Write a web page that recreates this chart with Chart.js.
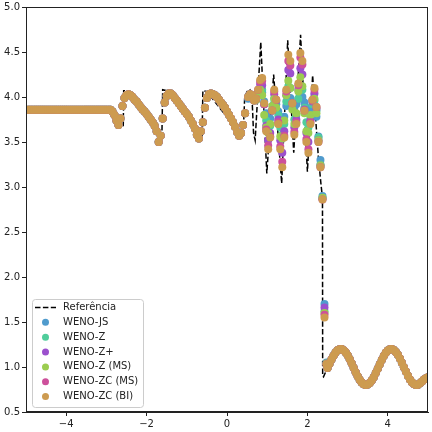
<!DOCTYPE html>
<html><head><meta charset="utf-8">
<script src="https://cdn.jsdelivr.net/npm/chart.js@4.4.0/dist/chart.umd.min.js"></script>
<style>html,body{margin:0;padding:0;background:#fff;overflow:hidden}</style>
</head><body>
<canvas id="c" width="432" height="432" style="width:432px;height:432px;display:block"></canvas>
<script>
const xTicks = [-4, -2, 0, 2, 4];
const yTicks = [0.5, 1.0, 1.5, 2.0, 2.5, 3.0, 3.5, 4.0, 4.5, 5.0];
const refLabel = 'Referência';
const seriesNames = ['WENO-JS', 'WENO-Z', 'WENO-Z+', 'WENO-Z (MS)', 'WENO-ZC (MS)', 'WENO-ZC (BI)'];
const seriesColors = ['#509bcd', '#50cd9b', '#9b50cd', '#9bcd50', '#cd509b', '#cd9b50'];

// reference solution
const refX = [-5, -2.9, -2.8, -2.7, -2.6, -2.58, -2.57, -2.5, -1.62, -1.60, -1.5, -0.62, -0.60, -0.5,
  0.40, 0.44, 0.5, 0.57, 0.62, 0.66, 0.70,
  0.84, 0.99, 1.16, 1.36, 1.51, 1.66, 1.83, 2.0, 2.13, 2.27, 2.34, 2.375, 2.38, 2.4,
  2.5, 2.6, 2.7, 2.8, 2.9, 3.0, 3.1, 3.2, 3.3, 3.4, 3.5, 3.6, 3.7, 3.8, 3.9, 4.0, 4.1, 4.2, 4.3, 4.4, 4.5, 4.6, 4.7, 4.8, 4.9,
  4.96, 5.0];
const refY = [3.857, 3.857, 3.81, 3.75, 3.70, 3.69, 4.07, 4.07, 3.56, 4.08, 4.07, 3.56, 4.07, 4.06,
  3.55, 4.0, 4.06, 4.08, 4.02, 3.6, 3.52,
  4.61, 3.15, 4.25, 3.04, 4.63, 3.38, 4.69, 3.17, 4.24, 3.35, 3.02, 2.88, 0.90, 0.89,
  0.99, 1.08, 1.16, 1.20, 1.19, 1.13, 1.04, 0.94, 0.86, 0.81, 0.80, 0.85, 0.93, 1.03, 1.12, 1.18, 1.20, 1.17, 1.09, 1.00, 0.90, 0.83, 0.80, 0.82, 0.86,
  0.87, 0.97];

// numerical solutions: smooth left part (common to all schemes)
const xLeft = [-5.0, -4.95, -4.9, -4.85, -4.8, -4.75, -4.7, -4.65, -4.6, -4.55, -4.5, -4.45, -4.4, -4.35, -4.3, -4.25, -4.2, -4.15, -4.1, -4.05,
  -4.0, -3.95, -3.9, -3.85, -3.8, -3.75, -3.7, -3.65, -3.6, -3.55, -3.5, -3.45, -3.4, -3.35, -3.3, -3.25, -3.2, -3.15, -3.1, -3.05,
  -3.0, -2.95, -2.9, -2.85, -2.8, -2.75, -2.7, -2.65, -2.6, -2.55, -2.5, -2.45, -2.4, -2.35, -2.3, -2.25, -2.2, -2.15, -2.1, -2.05,
  -2.0, -1.95, -1.9, -1.85, -1.8, -1.75, -1.7, -1.65, -1.6, -1.55, -1.5, -1.45, -1.4, -1.35, -1.3, -1.25, -1.2, -1.15, -1.1, -1.05,
  -1.0, -0.95, -0.9, -0.85, -0.8, -0.75, -0.7, -0.65, -0.6, -0.55, -0.5, -0.45, -0.4, -0.35, -0.3, -0.25, -0.2, -0.15, -0.1, -0.05,
  0.0, 0.05, 0.1, 0.15, 0.2, 0.25, 0.3, 0.35, 0.4, 0.45];
const rhoLeft = [3.857, 3.857, 3.857, 3.857, 3.857, 3.857, 3.857, 3.857, 3.857, 3.857, 3.857, 3.857, 3.857, 3.857, 3.857, 3.857, 3.857, 3.857, 3.857, 3.857,
  3.857, 3.857, 3.857, 3.857, 3.857, 3.857, 3.857, 3.857, 3.857, 3.857, 3.857, 3.857, 3.857, 3.857, 3.857, 3.857, 3.857, 3.857, 3.857, 3.857,
  3.857, 3.857, 3.857, 3.84, 3.80, 3.74, 3.69, 3.76, 3.90, 3.99, 4.02, 4.03, 4.02, 4.00, 3.97, 3.95, 3.92, 3.89, 3.86, 3.84,
  3.81, 3.78, 3.75, 3.72, 3.68, 3.62, 3.50, 3.57, 3.76, 3.94, 4.01, 4.04, 4.04, 4.02, 3.99, 3.96, 3.93, 3.90, 3.87, 3.84,
  3.81, 3.78, 3.74, 3.70, 3.65, 3.58, 3.54, 3.62, 3.72, 3.88, 3.99, 4.03, 4.04, 4.03, 4.02, 4.00, 3.97, 3.94, 3.91, 3.88,
  3.84, 3.80, 3.76, 3.72, 3.67, 3.61, 3.57, 3.60, 3.69, 3.82];

// high-frequency region, per scheme
const xMid = [0.525, 0.575, 0.625, 0.675, 0.725, 0.775, 0.825, 0.875, 0.925, 0.975,
  1.025, 1.075, 1.125, 1.175, 1.225, 1.275, 1.325, 1.375, 1.425, 1.475,
  1.525, 1.575, 1.625, 1.675, 1.725, 1.775, 1.825, 1.875, 1.925, 1.975,
  2.025, 2.075, 2.125, 2.175, 2.225, 2.275, 2.325, 2.375, 2.425, 2.475];
const rhoJS = [3.98, 4.02, 4.00, 3.97, 3.98, 4.03, 4.07, 4.05, 3.95, 3.82,
  3.74, 3.76, 3.85, 3.93, 3.92, 3.84, 3.76, 3.72, 3.78, 3.90,
  3.98, 3.99, 3.93, 3.88, 3.92, 3.98, 4.02, 4.00, 3.94, 3.88,
  3.85, 3.86, 3.84, 3.82, 3.78, 3.56, 3.30, 2.90, 1.70, 1.05];
const rhoZ = [4.0, 4.03, 4.01, 3.96, 3.97, 4.05, 4.10, 4.08, 3.92, 3.74,
  3.63, 3.68, 3.85, 3.98, 3.95, 3.80, 3.66, 3.58, 3.70, 3.95,
  4.12, 4.10, 3.92, 3.75, 3.80, 3.98, 4.12, 4.08, 3.88, 3.72,
  3.66, 3.78, 3.92, 3.96, 3.85, 3.55, 3.25, 2.88, 1.62, 1.04];
const rhoZplus = [4.0, 4.03, 4.01, 3.96, 3.97, 4.06, 4.14, 4.13, 3.92, 3.68,
  3.52, 3.60, 3.85, 4.03, 3.96, 3.75, 3.52, 3.38, 3.62, 4.02,
  4.30, 4.26, 3.93, 3.66, 3.75, 4.08, 4.32, 4.25, 3.86, 3.60,
  3.50, 3.74, 3.95, 4.04, 3.87, 3.52, 3.24, 2.87, 1.66, 1.04];
const rhoZMS = [4.0, 4.03, 4.01, 3.96, 3.97, 4.04, 4.08, 4.02, 3.80, 3.66,
  3.60, 3.70, 3.90, 3.98, 3.88, 3.70, 3.56, 3.54, 3.74, 4.02,
  4.18, 4.10, 3.86, 3.70, 3.82, 4.06, 4.22, 4.12, 3.82, 3.62,
  3.60, 3.80, 3.96, 3.98, 3.82, 3.52, 3.24, 2.88, 1.60, 1.04];
const rhoZCMS = [4.0, 4.03, 4.02, 3.96, 3.98, 4.08, 4.17, 4.18, 3.92, 3.64,
  3.46, 3.56, 3.85, 4.06, 3.97, 3.72, 3.45, 3.28, 3.57, 4.06,
  4.40, 4.35, 3.93, 3.61, 3.72, 4.13, 4.44, 4.36, 3.85, 3.53,
  3.42, 3.72, 3.96, 4.08, 3.89, 3.50, 3.22, 2.86, 1.58, 1.03];
const rhoZCBI = [4.00, 4.03, 4.02, 3.96, 3.98, 4.08, 4.19, 4.21, 3.93, 3.62,
  3.42, 3.55, 3.85, 4.08, 3.97, 3.70, 3.42, 3.22, 3.55, 4.08,
  4.47, 4.40, 3.93, 3.58, 3.70, 4.15, 4.49, 4.40, 3.85, 3.50,
  3.38, 3.70, 3.97, 4.10, 3.89, 3.50, 3.22, 2.86, 1.55, 1.03];

// smooth right part (common)
const xRight = [2.5, 2.55, 2.6, 2.65, 2.7, 2.75, 2.8, 2.85, 2.9, 2.95, 3.0, 3.05, 3.1, 3.15, 3.2, 3.25, 3.3, 3.35, 3.4, 3.45,
  3.5, 3.55, 3.6, 3.65, 3.7, 3.75, 3.8, 3.85, 3.9, 3.95, 4.0, 4.05, 4.1, 4.15, 4.2, 4.25, 4.3, 4.35, 4.4, 4.45,
  4.5, 4.55, 4.6, 4.65, 4.7, 4.75, 4.8, 4.85, 4.9, 4.95, 5.0];
const rhoRight = [0.99, 1.037, 1.084, 1.126, 1.161, 1.185, 1.198, 1.199, 1.187, 1.164, 1.130, 1.088, 1.041, 0.992, 0.942, 0.897, 0.858, 0.827, 0.808, 0.800,
  0.805, 0.822, 0.850, 0.887, 0.932, 0.980, 1.030, 1.078, 1.121, 1.157, 1.183, 1.197, 1.199, 1.189, 1.167, 1.135, 1.094, 1.048, 0.998, 0.949,
  0.903, 0.862, 0.831, 0.810, 0.800, 0.804, 0.819, 0.84, 0.86, 0.875, 0.885];

const midSeries = [rhoJS, rhoZ, rhoZplus, rhoZMS, rhoZCMS, rhoZCBI];

function pts(xs, ys) { return xs.map((x, i) => ({ x: x, y: ys[i] })); }

const datasets = [{
  label: refLabel,
  data: pts(refX, refY),
  showLine: true,
  borderColor: '#000000',
  backgroundColor: '#000000',
  borderWidth: 1.5,
  borderDash: [5.5, 2.4],
  pointRadius: 0,
  pointHoverRadius: 0,
  tension: 0,
  order: 10
}];
seriesNames.forEach((name, k) => {
  datasets.push({
    label: name,
    data: pts(xLeft, rhoLeft).concat(pts(xMid, midSeries[k]), pts(xRight, rhoRight)),
    backgroundColor: seriesColors[k],
    borderColor: seriesColors[k],
    borderWidth: 0,
    pointRadius: 4,
    pointHoverRadius: 4,
    showLine: false,
    order: 6 - k
  });
});

const FONT = 'DejaVu Sans';
const TXT = '#222222';

const framePlugin = {
  id: 'frame',
  afterDraw(chart) {
    const { ctx, chartArea: a } = chart;
    ctx.save();
    ctx.strokeStyle = '#222222';
    ctx.lineWidth = 1;
    ctx.strokeRect(Math.round(a.left) + 0.5, Math.round(a.top) + 0.5, Math.round(a.right - a.left) - 1, Math.round(a.bottom - a.top) - 1);
    // legend
    const bx = 32, by = 299, bw = 111, bh = 108;
    ctx.fillStyle = 'rgba(255,255,255,0.8)';
    ctx.strokeStyle = '#cccccc';
    ctx.lineWidth = 1;
    ctx.beginPath();
    if (ctx.roundRect) ctx.roundRect(bx + 0.5, by + 0.5, bw, bh, 3); else ctx.rect(bx + 0.5, by + 0.5, bw, bh);
    ctx.fill();
    ctx.stroke();
    ctx.font = '10px "' + FONT + '"';
    ctx.textBaseline = 'middle';
    ctx.textAlign = 'left';
    const rowY0 = 307.5, dy = 14.85;
    const labels = [refLabel].concat(seriesNames);
    labels.forEach((lab, i) => {
      const y = rowY0 + i * dy;
      if (i === 0) {
        ctx.strokeStyle = '#000000';
        ctx.lineWidth = 1.5;
        ctx.setLineDash([5.5, 2.4]);
        ctx.beginPath();
        ctx.moveTo(35, y);
        ctx.lineTo(56, y);
        ctx.stroke();
        ctx.setLineDash([]);
      } else {
        ctx.fillStyle = seriesColors[i - 1];
        ctx.beginPath();
        ctx.arc(45.5, y, 3.5, 0, Math.PI * 2);
        ctx.fill();
      }
      ctx.fillStyle = TXT;
      ctx.fillText(lab, 63, y);
    });
    ctx.restore();
  }
};

new Chart(document.getElementById('c'), {
  type: 'scatter',
  data: { datasets: datasets },
  options: {
    responsive: false,
    animation: false,
    events: [],
    layout: { padding: { left: 0, right: -2, top: 7, bottom: 0 } },
    plugins: { legend: { display: false }, tooltip: { enabled: false } },
    scales: {
      x: {
        type: 'linear', min: -5, max: 5,
        afterBuildTicks: s => { s.ticks = xTicks.map(v => ({ value: v })); },
        afterFit: s => { s.height = 20; s.paddingLeft = 0; s.paddingRight = 0; },
        ticks: {
          autoSkip: false, maxRotation: 0, padding: 2, color: TXT,
          font: { family: FONT, size: 10 },
          callback: v => (v < 0 ? '\u2212' + Math.abs(v) : String(v))
        },
        grid: { drawOnChartArea: false, drawTicks: true, tickLength: 4, color: '#222222', lineWidth: 1 },
        border: { display: true, color: '#222222', width: 1 }
      },
      y: {
        type: 'linear', min: 0.5, max: 5.0,
        afterBuildTicks: s => { s.ticks = yTicks.map(v => ({ value: v })); },
        afterFit: s => { s.width = 26; s.paddingTop = 0; s.paddingBottom = 0; },
        ticks: {
          autoSkip: false, padding: 2, color: TXT,
          font: { family: FONT, size: 10 },
          callback: v => Number(v).toFixed(1)
        },
        grid: { drawOnChartArea: false, drawTicks: true, tickLength: 4, color: '#222222', lineWidth: 1 },
        border: { display: true, color: '#222222', width: 1 }
      }
    }
  },
  plugins: [framePlugin]
});
</script>
</body></html>
